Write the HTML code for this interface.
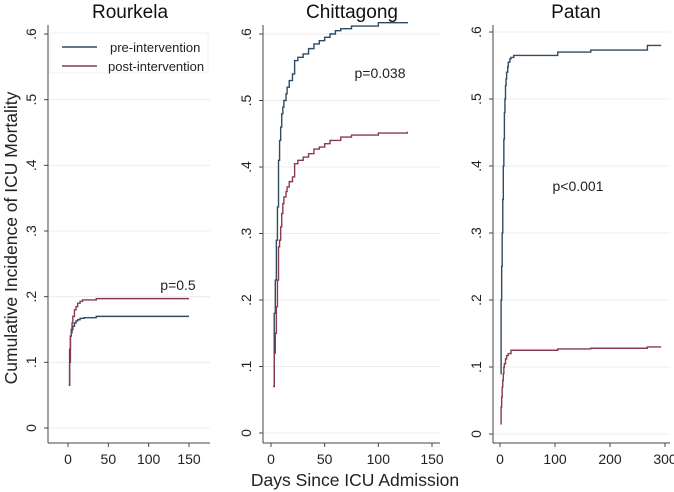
<!DOCTYPE html>
<html><head><meta charset="utf-8"><style>
body{margin:0;background:#fff}
svg{display:block;font-family:"Liberation Sans",sans-serif}
</style></head><body>
<svg id="c" width="674" height="492"></svg>
<script>
const panelTitles=["Rourkela","Chittagong","Patan"];
const yTicks=[0,0.1,0.2,0.3,0.4,0.5,0.6];
const yTickLabels=["0",".1",".2",".3",".4",".5",".6"];
const xTicks1=[0,50,100,150];
const xTicks2=[0,50,100,150];
const xTicks3=[0,100,200,300];
const pValues=["p=0.5","p=0.038","p<0.001"];
const rourkelaPreDays=[1,2,3,4,5,6,8,10,12,15,20,35,150];
const rourkelaPreVals=[0.065,0.12,0.14,0.145,0.15,0.155,0.16,0.163,0.165,0.167,0.168,0.17,0.17];
const rourkelaPostDays=[1,2,3,4,5,6,8,10,12,15,18,35,150];
const rourkelaPostVals=[0.065,0.1,0.14,0.15,0.16,0.17,0.18,0.185,0.19,0.193,0.195,0.197,0.197];
const chittPreDays=[2,3,4,5,6,7,8,9,10,11,12,14,15,17,20,22,25,30,35,40,45,50,55,60,65,75,100,127];
const chittPreVals=[0.07,0.18,0.23,0.29,0.34,0.41,0.44,0.46,0.48,0.49,0.5,0.51,0.52,0.53,0.54,0.56,0.565,0.57,0.578,0.585,0.59,0.595,0.6,0.605,0.608,0.612,0.617,0.618];
const chittPostDays=[2,3,4,5,6,7,8,9,10,11,12,14,15,17,20,22,25,30,35,40,45,50,55,60,65,75,100,127];
const chittPostVals=[0.07,0.12,0.15,0.19,0.23,0.28,0.29,0.31,0.33,0.345,0.355,0.363,0.37,0.378,0.385,0.405,0.41,0.415,0.42,0.427,0.43,0.435,0.44,0.44,0.445,0.448,0.451,0.453];
const patanPreDays=[1,2,3,4,5,6,7,8,9,10,11,12,14,15,18,20,25,105,165,268,293];
const patanPreVals=[0.09,0.2,0.25,0.3,0.35,0.4,0.44,0.48,0.5,0.52,0.53,0.54,0.548,0.555,0.56,0.562,0.565,0.57,0.573,0.58,0.58];
const patanPostDays=[1,2,3,4,5,6,7,8,10,12,15,20,105,165,268,293];
const patanPostVals=[0.015,0.04,0.055,0.07,0.08,0.09,0.1,0.105,0.112,0.117,0.12,0.125,0.127,0.128,0.13,0.13];

const NS="http://www.w3.org/2000/svg";
const svg=document.getElementById('c');
function mk(t,a,p){const e=document.createElementNS(NS,t);for(const k in a)e.setAttribute(k,a[k]);(p||svg).appendChild(e);return e;}
const PRE="#2f4b63",POST="#8a3a4b";
const panels=[
 {ax:48,x0:68,x1:189,xmax:150,xend:210,y0:428,y6:34,ticks:xTicks1,pre:[rourkelaPreDays,rourkelaPreVals],post:[rourkelaPostDays,rourkelaPostVals],px:178,py:290,tx:130},
 {ax:263,x0:271,x1:432,xmax:150,xend:440,y0:433,y6:34,ticks:xTicks2,pre:[chittPreDays,chittPreVals],post:[chittPostDays,chittPostVals],px:380,py:78,tx:352},
 {ax:493,x0:500,x1:665,xmax:300,xend:670,y0:434,y6:32,ticks:xTicks3,pre:[patanPreDays,patanPreVals],post:[patanPostDays,patanPostVals],px:578,py:191,tx:576}
];
panels.forEach((p,i)=>{
 const g=mk('g',{});
 
 
 const X=v=>p.x0+(p.x1-p.x0)*v/p.xmax;
 const Y=v=>p.y0+(p.y6-p.y0)*v/0.6;
 yTicks.forEach((t,j)=>{
  const gl=mk('line',{x1:p.ax+1,x2:p.xend,y1:Y(t),y2:Y(t),stroke:'#ececec','stroke-width':1},g);
  
  
  mk('line',{x1:p.ax-4,x2:p.ax,y1:Y(t),y2:Y(t),stroke:'#444'},g);
  const tl=mk('text',{x:p.ax-12,y:Y(t),transform:`rotate(-90 ${p.ax-12} ${Y(t)})`,'text-anchor':'middle','font-size':14,fill:'#222'},g);
  tl.textContent=yTickLabels[j];
  
  
 });
 p.ticks.forEach(t=>{
  mk('line',{x1:X(t),x2:X(t),y1:443,y2:447,stroke:'#444'},g);
  const tl=mk('text',{x:X(t),y:464,'text-anchor':'middle','font-size':14,fill:'#222'},g);
  tl.textContent=t;
  
  
 });
 mk('line',{x1:p.ax,x2:p.ax,y1:25,y2:443,stroke:'#444'},g);
 mk('line',{x1:p.ax,x2:p.xend,y1:443,y2:443,stroke:'#444'},g);
 const tt=mk('text',{x:p.tx,y:18,'text-anchor':'middle','font-size':19,fill:'#111'},g);
 tt.textContent=panelTitles[i];
 
 
 [[p.pre,PRE,'pre'],[p.post,POST,'post']].forEach(([s,c,n])=>{
  let d='';
  s[0].forEach((dx,k)=>{
   if(k===0)d+=`M${X(dx)},${Y(s[1][k])}`;
   else d+=`H${X(dx)}V${Y(s[1][k])}`;
  });
  const pa=mk('path',{d:d,fill:'none',stroke:c,'stroke-width':1.4},g);
  
  
 });
 const pv=mk('text',{x:p.px,y:p.py,'text-anchor':'middle','font-size':14,fill:'#222'},g);
 pv.textContent=pValues[i];
 
 
});
</script>
<svg style="position:absolute;left:0;top:0" width="674" height="492">
 <g>
  <rect x="50" y="33" width="158" height="40" fill="#fff" stroke="#f0f0f0"/>
  <line x1="62" x2="97" y1="47" y2="47" stroke="#2f4b63" stroke-width="1.4"/>
  <text x="110" y="52" font-size="13" fill="#222" font-family="Liberation Sans,sans-serif">pre-intervention</text>
  <line x1="62" x2="97" y1="66" y2="66" stroke="#8a3a4b" stroke-width="1.4"/>
  <text x="108" y="71" font-size="13" fill="#222" font-family="Liberation Sans,sans-serif">post-intervention</text>
 </g>
 <text x="17" y="238" transform="rotate(-90 17 238)" text-anchor="middle" font-size="17.5" fill="#222" font-family="Liberation Sans,sans-serif">Cumulative Incidence of ICU Mortality</text>
 <text x="355" y="486" text-anchor="middle" font-size="17.5" fill="#222" font-family="Liberation Sans,sans-serif">Days Since ICU Admission</text>
</svg>
</body></html>
